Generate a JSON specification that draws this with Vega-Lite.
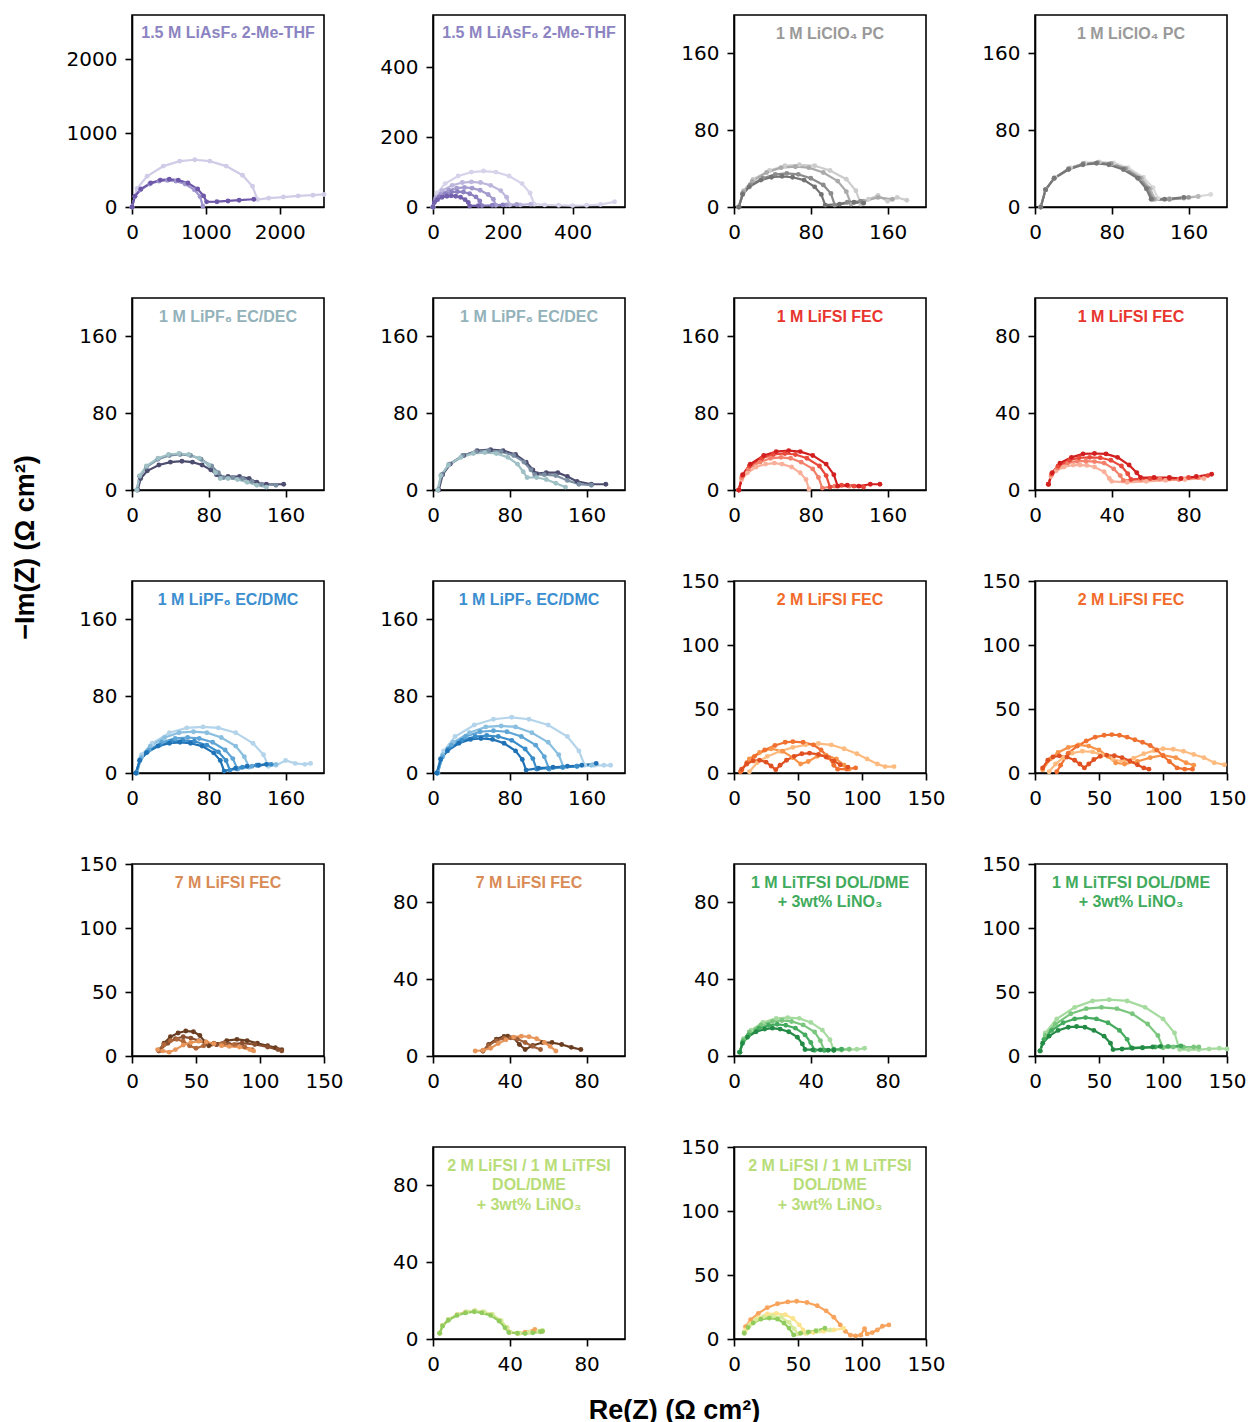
{
"$schema":"https://vega.github.io/schema/vega-lite/v6.json",
"background":"white",
"padding":{"left":10,"top":14,"right":5,"bottom":5},
"config":{
 "view":{"stroke":"black","strokeWidth":1.6},
 "axis":{"domainColor":"black","domainWidth":1.6,"tickColor":"black","tickWidth":1.6,"tickSize":7,"labelPadding":8,"labelColor":"black","labelFont":"DejaVu Sans","labelFontSize":20,"grid":false,"labelFlush":false,"labelOverlap":false,"titleFont":"Liberation Sans","titleFontWeight":"bold","titleFontSize":27,"titleColor":"black"},
 "text":{"font":"Liberation Sans","fontWeight":"bold","fontSize":16,"align":"center","baseline":"alphabetic","lineHeight":19.5},
 "line":{"strokeWidth":2.2,"point":{"filled":true,"size":24}}
},
"data":{"values":[
{"p":1,"s":1,"x":0,"y":0},{"p":1,"s":1,"x":68,"y":251},{"p":1,"s":1,"x":204,"y":416},{"p":1,"s":1,"x":425,"y":554},{"p":1,"s":1,"x":646,"y":621},{"p":1,"s":1,"x":850,"y":640},{"p":1,"s":1,"x":1054,"y":621},{"p":1,"s":1,"x":1275,"y":554},{"p":1,"s":1,"x":1496,"y":430},{"p":1,"s":1,"x":1632,"y":280},{"p":1,"s":1,"x":1700,"y":100},{"p":1,"s":1,"x":1850,"y":120},{"p":1,"s":1,"x":2050,"y":135},{"p":1,"s":1,"x":2250,"y":150},{"p":1,"s":1,"x":2450,"y":160},{"p":1,"s":1,"x":2600,"y":170},
{"p":1,"s":2,"x":0,"y":0},{"p":1,"s":2,"x":38,"y":141},{"p":1,"s":2,"x":115,"y":234},{"p":1,"s":2,"x":240,"y":312},{"p":1,"s":2,"x":365,"y":350},{"p":1,"s":2,"x":480,"y":360},{"p":1,"s":2,"x":595,"y":350},{"p":1,"s":2,"x":720,"y":312},{"p":1,"s":2,"x":845,"y":234},{"p":1,"s":2,"x":922,"y":141},{"p":1,"s":2,"x":960,"y":10},
{"p":1,"s":3,"x":0,"y":0},{"p":1,"s":3,"x":40,"y":147},{"p":1,"s":3,"x":121,"y":244},{"p":1,"s":3,"x":252,"y":325},{"p":1,"s":3,"x":384,"y":364},{"p":1,"s":3,"x":505,"y":375},{"p":1,"s":3,"x":626,"y":364},{"p":1,"s":3,"x":757,"y":325},{"p":1,"s":3,"x":889,"y":244},{"p":1,"s":3,"x":970,"y":150},{"p":1,"s":3,"x":1010,"y":70},{"p":1,"s":3,"x":1150,"y":72},{"p":1,"s":3,"x":1300,"y":82},{"p":1,"s":3,"x":1450,"y":92},{"p":1,"s":3,"x":1650,"y":105},
{"p":2,"s":1,"x":0,"y":0},{"p":2,"s":1,"x":12,"y":40},{"p":2,"s":1,"x":35,"y":67},{"p":2,"s":1,"x":72,"y":89},{"p":2,"s":1,"x":110,"y":100},{"p":2,"s":1,"x":145,"y":103},{"p":2,"s":1,"x":180,"y":100},{"p":2,"s":1,"x":218,"y":89},{"p":2,"s":1,"x":255,"y":67},{"p":2,"s":1,"x":278,"y":40},{"p":2,"s":1,"x":290,"y":8},{"p":2,"s":1,"x":320,"y":6},{"p":2,"s":1,"x":360,"y":5},{"p":2,"s":1,"x":400,"y":4},{"p":2,"s":1,"x":440,"y":5},{"p":2,"s":1,"x":480,"y":7},{"p":2,"s":1,"x":520,"y":15},
{"p":2,"s":2,"x":0,"y":0},{"p":2,"s":2,"x":9,"y":28},{"p":2,"s":2,"x":26,"y":47},{"p":2,"s":2,"x":55,"y":62},{"p":2,"s":2,"x":84,"y":70},{"p":2,"s":2,"x":110,"y":72},{"p":2,"s":2,"x":136,"y":70},{"p":2,"s":2,"x":165,"y":62},{"p":2,"s":2,"x":194,"y":47},{"p":2,"s":2,"x":211,"y":28},{"p":2,"s":2,"x":220,"y":6},{"p":2,"s":2,"x":250,"y":6},{"p":2,"s":2,"x":280,"y":8},
{"p":2,"s":3,"x":0,"y":0},{"p":2,"s":3,"x":7,"y":22},{"p":2,"s":3,"x":22,"y":36},{"p":2,"s":3,"x":45,"y":48},{"p":2,"s":3,"x":68,"y":54},{"p":2,"s":3,"x":90,"y":56},{"p":2,"s":3,"x":112,"y":54},{"p":2,"s":3,"x":135,"y":48},{"p":2,"s":3,"x":158,"y":36},{"p":2,"s":3,"x":173,"y":22},{"p":2,"s":3,"x":180,"y":5},{"p":2,"s":3,"x":210,"y":6},{"p":2,"s":3,"x":240,"y":7},
{"p":2,"s":4,"x":0,"y":0},{"p":2,"s":4,"x":6,"y":17},{"p":2,"s":4,"x":17,"y":29},{"p":2,"s":4,"x":35,"y":38},{"p":2,"s":4,"x":53,"y":43},{"p":2,"s":4,"x":70,"y":44},{"p":2,"s":4,"x":87,"y":43},{"p":2,"s":4,"x":105,"y":38},{"p":2,"s":4,"x":123,"y":29},{"p":2,"s":4,"x":134,"y":17},{"p":2,"s":4,"x":140,"y":4},{"p":2,"s":4,"x":170,"y":5},{"p":2,"s":4,"x":200,"y":6},
{"p":2,"s":5,"x":0,"y":0},{"p":2,"s":5,"x":4,"y":13},{"p":2,"s":5,"x":13,"y":21},{"p":2,"s":5,"x":26,"y":28},{"p":2,"s":5,"x":40,"y":31},{"p":2,"s":5,"x":52,"y":32},{"p":2,"s":5,"x":65,"y":31},{"p":2,"s":5,"x":79,"y":28},{"p":2,"s":5,"x":92,"y":21},{"p":2,"s":5,"x":101,"y":13},{"p":2,"s":5,"x":105,"y":3},{"p":2,"s":5,"x":130,"y":4},
{"p":3,"s":1,"x":5,"y":0},{"p":3,"s":1,"x":10,"y":17},{"p":3,"s":1,"x":20,"y":29},{"p":3,"s":1,"x":37,"y":38},{"p":3,"s":1,"x":53,"y":43},{"p":3,"s":1,"x":68,"y":44},{"p":3,"s":1,"x":84,"y":43},{"p":3,"s":1,"x":100,"y":38},{"p":3,"s":1,"x":117,"y":29},{"p":3,"s":1,"x":127,"y":17},{"p":3,"s":1,"x":132,"y":3},{"p":3,"s":1,"x":140,"y":8},{"p":3,"s":1,"x":150,"y":12},{"p":3,"s":1,"x":160,"y":6},{"p":3,"s":1,"x":170,"y":10},{"p":3,"s":1,"x":180,"y":7},
{"p":3,"s":2,"x":5,"y":0},{"p":3,"s":2,"x":10,"y":16},{"p":3,"s":2,"x":19,"y":27},{"p":3,"s":2,"x":34,"y":36},{"p":3,"s":2,"x":49,"y":41},{"p":3,"s":2,"x":64,"y":42},{"p":3,"s":2,"x":78,"y":41},{"p":3,"s":2,"x":93,"y":36},{"p":3,"s":2,"x":108,"y":27},{"p":3,"s":2,"x":117,"y":16},{"p":3,"s":2,"x":122,"y":3},{"p":3,"s":2,"x":135,"y":6},{"p":3,"s":2,"x":150,"y":10},{"p":3,"s":2,"x":165,"y":8},
{"p":3,"s":3,"x":5,"y":0},{"p":3,"s":3,"x":9,"y":14},{"p":3,"s":3,"x":17,"y":23},{"p":3,"s":3,"x":30,"y":30},{"p":3,"s":3,"x":43,"y":34},{"p":3,"s":3,"x":55,"y":35},{"p":3,"s":3,"x":67,"y":34},{"p":3,"s":3,"x":80,"y":30},{"p":3,"s":3,"x":93,"y":23},{"p":3,"s":3,"x":101,"y":14},{"p":3,"s":3,"x":105,"y":2},{"p":3,"s":3,"x":118,"y":5},{"p":3,"s":3,"x":132,"y":6},
{"p":3,"s":4,"x":5,"y":0},{"p":3,"s":4,"x":9,"y":13},{"p":3,"s":4,"x":16,"y":21},{"p":3,"s":4,"x":28,"y":28},{"p":3,"s":4,"x":39,"y":31},{"p":3,"s":4,"x":50,"y":32},{"p":3,"s":4,"x":61,"y":31},{"p":3,"s":4,"x":73,"y":28},{"p":3,"s":4,"x":84,"y":21},{"p":3,"s":4,"x":91,"y":13},{"p":3,"s":4,"x":95,"y":2},{"p":3,"s":4,"x":110,"y":3},{"p":3,"s":4,"x":125,"y":5},{"p":3,"s":4,"x":135,"y":4},
{"p":4,"s":1,"x":6,"y":0},{"p":4,"s":1,"x":11,"y":18},{"p":4,"s":1,"x":21,"y":31},{"p":4,"s":1,"x":37,"y":41},{"p":4,"s":1,"x":52,"y":46},{"p":4,"s":1,"x":67,"y":47},{"p":4,"s":1,"x":82,"y":46},{"p":4,"s":1,"x":97,"y":41},{"p":4,"s":1,"x":113,"y":31},{"p":4,"s":1,"x":123,"y":20},{"p":4,"s":1,"x":128,"y":9},{"p":4,"s":1,"x":140,"y":9},{"p":4,"s":1,"x":155,"y":10},{"p":4,"s":1,"x":170,"y":11},{"p":4,"s":1,"x":183,"y":13},
{"p":4,"s":2,"x":6,"y":0},{"p":4,"s":2,"x":11,"y":18},{"p":4,"s":2,"x":20,"y":30},{"p":4,"s":2,"x":36,"y":40},{"p":4,"s":2,"x":51,"y":45},{"p":4,"s":2,"x":66,"y":46.5},{"p":4,"s":2,"x":80,"y":45},{"p":4,"s":2,"x":95,"y":40},{"p":4,"s":2,"x":111,"y":30},{"p":4,"s":2,"x":120,"y":19},{"p":4,"s":2,"x":125,"y":8},{"p":4,"s":2,"x":140,"y":8},{"p":4,"s":2,"x":155,"y":9},{"p":4,"s":2,"x":170,"y":11},
{"p":4,"s":3,"x":6,"y":0},{"p":4,"s":3,"x":11,"y":18},{"p":4,"s":3,"x":20,"y":30},{"p":4,"s":3,"x":35,"y":40},{"p":4,"s":3,"x":50,"y":45},{"p":4,"s":3,"x":65,"y":46},{"p":4,"s":3,"x":79,"y":45},{"p":4,"s":3,"x":94,"y":40},{"p":4,"s":3,"x":109,"y":30},{"p":4,"s":3,"x":118,"y":19},{"p":4,"s":3,"x":123,"y":8},{"p":4,"s":3,"x":140,"y":8},{"p":4,"s":3,"x":160,"y":10},
{"p":4,"s":4,"x":6,"y":0},{"p":4,"s":4,"x":11,"y":18},{"p":4,"s":4,"x":20,"y":30},{"p":4,"s":4,"x":35,"y":39},{"p":4,"s":4,"x":50,"y":44},{"p":4,"s":4,"x":64,"y":45.5},{"p":4,"s":4,"x":77,"y":44},{"p":4,"s":4,"x":92,"y":39},{"p":4,"s":4,"x":107,"y":30},{"p":4,"s":4,"x":116,"y":19},{"p":4,"s":4,"x":121,"y":8},{"p":4,"s":4,"x":135,"y":8},{"p":4,"s":4,"x":155,"y":10},
{"p":5,"s":1,"x":6,"y":0},{"p":5,"s":1,"x":9,"y":12},{"p":5,"s":1,"x":16,"y":20},{"p":5,"s":1,"x":28,"y":26},{"p":5,"s":1,"x":40,"y":29},{"p":5,"s":1,"x":52,"y":30},{"p":5,"s":1,"x":63,"y":29},{"p":5,"s":1,"x":73,"y":26},{"p":5,"s":1,"x":82,"y":21},{"p":5,"s":1,"x":88,"y":16},{"p":5,"s":1,"x":92,"y":13},{"p":5,"s":1,"x":100,"y":14},{"p":5,"s":1,"x":112,"y":14},{"p":5,"s":1,"x":122,"y":12},{"p":5,"s":1,"x":130,"y":8},{"p":5,"s":1,"x":140,"y":6},{"p":5,"s":1,"x":158,"y":6},
{"p":5,"s":2,"x":5,"y":0},{"p":5,"s":2,"x":8,"y":14},{"p":5,"s":2,"x":15,"y":24},{"p":5,"s":2,"x":27,"y":32},{"p":5,"s":2,"x":39,"y":36},{"p":5,"s":2,"x":50,"y":37},{"p":5,"s":2,"x":61,"y":36},{"p":5,"s":2,"x":72,"y":32},{"p":5,"s":2,"x":83,"y":25},{"p":5,"s":2,"x":90,"y":18},{"p":5,"s":2,"x":95,"y":13},{"p":5,"s":2,"x":105,"y":13},{"p":5,"s":2,"x":115,"y":12},{"p":5,"s":2,"x":125,"y":9},{"p":5,"s":2,"x":135,"y":6},{"p":5,"s":2,"x":150,"y":5},
{"p":5,"s":3,"x":5,"y":0},{"p":5,"s":3,"x":8,"y":15},{"p":5,"s":3,"x":15,"y":25},{"p":5,"s":3,"x":27,"y":33},{"p":5,"s":3,"x":38,"y":37},{"p":5,"s":3,"x":49,"y":38},{"p":5,"s":3,"x":59,"y":37},{"p":5,"s":3,"x":70,"y":33},{"p":5,"s":3,"x":80,"y":26},{"p":5,"s":3,"x":87,"y":18},{"p":5,"s":3,"x":92,"y":12},{"p":5,"s":3,"x":100,"y":12},{"p":5,"s":3,"x":110,"y":11},{"p":5,"s":3,"x":120,"y":8},{"p":5,"s":3,"x":130,"y":5},{"p":5,"s":3,"x":140,"y":3},
{"p":6,"s":1,"x":6,"y":0},{"p":6,"s":1,"x":10,"y":16},{"p":6,"s":1,"x":18,"y":27},{"p":6,"s":1,"x":32,"y":36},{"p":6,"s":1,"x":46,"y":41},{"p":6,"s":1,"x":60,"y":42},{"p":6,"s":1,"x":73,"y":41},{"p":6,"s":1,"x":86,"y":37},{"p":6,"s":1,"x":97,"y":29},{"p":6,"s":1,"x":104,"y":21},{"p":6,"s":1,"x":108,"y":17},{"p":6,"s":1,"x":118,"y":18},{"p":6,"s":1,"x":130,"y":18},{"p":6,"s":1,"x":140,"y":14},{"p":6,"s":1,"x":150,"y":9},{"p":6,"s":1,"x":165,"y":6},{"p":6,"s":1,"x":180,"y":6},
{"p":6,"s":2,"x":5,"y":0},{"p":6,"s":2,"x":9,"y":16},{"p":6,"s":2,"x":17,"y":27},{"p":6,"s":2,"x":31,"y":36},{"p":6,"s":2,"x":45,"y":40},{"p":6,"s":2,"x":58,"y":41},{"p":6,"s":2,"x":71,"y":40},{"p":6,"s":2,"x":84,"y":36},{"p":6,"s":2,"x":95,"y":29},{"p":6,"s":2,"x":102,"y":21},{"p":6,"s":2,"x":106,"y":16},{"p":6,"s":2,"x":116,"y":16},{"p":6,"s":2,"x":128,"y":15},{"p":6,"s":2,"x":140,"y":10},{"p":6,"s":2,"x":152,"y":6},{"p":6,"s":2,"x":165,"y":5},
{"p":6,"s":3,"x":5,"y":0},{"p":6,"s":3,"x":8,"y":15},{"p":6,"s":3,"x":16,"y":26},{"p":6,"s":3,"x":29,"y":34},{"p":6,"s":3,"x":42,"y":38},{"p":6,"s":3,"x":54,"y":39},{"p":6,"s":3,"x":66,"y":38},{"p":6,"s":3,"x":78,"y":34},{"p":6,"s":3,"x":88,"y":27},{"p":6,"s":3,"x":94,"y":19},{"p":6,"s":3,"x":98,"y":13},{"p":6,"s":3,"x":108,"y":13},{"p":6,"s":3,"x":118,"y":11},{"p":6,"s":3,"x":128,"y":7},{"p":6,"s":3,"x":138,"y":3},
{"p":7,"s":1,"x":5,"y":0},{"p":7,"s":1,"x":8,"y":11},{"p":7,"s":1,"x":14,"y":18},{"p":7,"s":1,"x":23,"y":24},{"p":7,"s":1,"x":33,"y":27},{"p":7,"s":1,"x":42,"y":28},{"p":7,"s":1,"x":50,"y":27},{"p":7,"s":1,"x":60,"y":24},{"p":7,"s":1,"x":69,"y":18},{"p":7,"s":1,"x":75,"y":11},{"p":7,"s":1,"x":78,"y":1},
{"p":7,"s":2,"x":5,"y":0},{"p":7,"s":2,"x":8,"y":13},{"p":7,"s":2,"x":15,"y":22},{"p":7,"s":2,"x":27,"y":29},{"p":7,"s":2,"x":38,"y":33},{"p":7,"s":2,"x":49,"y":34},{"p":7,"s":2,"x":59,"y":33},{"p":7,"s":2,"x":70,"y":29},{"p":7,"s":2,"x":82,"y":22},{"p":7,"s":2,"x":88,"y":13},{"p":7,"s":2,"x":92,"y":2},{"p":7,"s":2,"x":105,"y":4},{"p":7,"s":2,"x":120,"y":4},
{"p":7,"s":3,"x":5,"y":0},{"p":7,"s":3,"x":9,"y":15},{"p":7,"s":3,"x":16,"y":25},{"p":7,"s":3,"x":29,"y":33},{"p":7,"s":3,"x":41,"y":37},{"p":7,"s":3,"x":53,"y":38},{"p":7,"s":3,"x":64,"y":37},{"p":7,"s":3,"x":76,"y":33},{"p":7,"s":3,"x":89,"y":25},{"p":7,"s":3,"x":96,"y":15},{"p":7,"s":3,"x":100,"y":3},{"p":7,"s":3,"x":112,"y":5},{"p":7,"s":3,"x":125,"y":4},{"p":7,"s":3,"x":135,"y":3},
{"p":7,"s":4,"x":5,"y":0},{"p":7,"s":4,"x":9,"y":16},{"p":7,"s":4,"x":17,"y":27},{"p":7,"s":4,"x":31,"y":36},{"p":7,"s":4,"x":44,"y":40},{"p":7,"s":4,"x":57,"y":41},{"p":7,"s":4,"x":69,"y":40},{"p":7,"s":4,"x":82,"y":36},{"p":7,"s":4,"x":96,"y":27},{"p":7,"s":4,"x":104,"y":16},{"p":7,"s":4,"x":108,"y":4},{"p":7,"s":4,"x":118,"y":5},{"p":7,"s":4,"x":130,"y":4},{"p":7,"s":4,"x":142,"y":6},{"p":7,"s":4,"x":152,"y":6},
{"p":8,"s":1,"x":7,"y":3},{"p":8,"s":1,"x":8.3,"y":7},{"p":8,"s":1,"x":11,"y":10},{"p":8,"s":1,"x":15,"y":12},{"p":8,"s":1,"x":20,"y":13},{"p":8,"s":1,"x":23.5,"y":13},{"p":8,"s":1,"x":27,"y":12.8},{"p":8,"s":1,"x":31,"y":12},{"p":8,"s":1,"x":36,"y":9.5},{"p":8,"s":1,"x":38.7,"y":6},{"p":8,"s":1,"x":40,"y":4.5},{"p":8,"s":1,"x":48,"y":4},{"p":8,"s":1,"x":58,"y":4.5},{"p":8,"s":1,"x":68,"y":5},{"p":8,"s":1,"x":78,"y":5.5},{"p":8,"s":1,"x":88,"y":6},
{"p":8,"s":2,"x":7,"y":3},{"p":8,"s":2,"x":8.6,"y":8},{"p":8,"s":2,"x":11.7,"y":11.5},{"p":8,"s":2,"x":17,"y":14},{"p":8,"s":2,"x":22,"y":15},{"p":8,"s":2,"x":26.5,"y":15},{"p":8,"s":2,"x":31,"y":14.8},{"p":8,"s":2,"x":36,"y":14},{"p":8,"s":2,"x":41,"y":11},{"p":8,"s":2,"x":44.4,"y":7.5},{"p":8,"s":2,"x":46,"y":5},{"p":8,"s":2,"x":55,"y":5.5},{"p":8,"s":2,"x":65,"y":5.8},{"p":8,"s":2,"x":75,"y":5.5},{"p":8,"s":2,"x":85,"y":6.5},
{"p":8,"s":3,"x":7,"y":3},{"p":8,"s":3,"x":8.7,"y":8.5},{"p":8,"s":3,"x":12,"y":12.5},{"p":8,"s":3,"x":18,"y":15.5},{"p":8,"s":3,"x":23,"y":16.8},{"p":8,"s":3,"x":28.5,"y":17},{"p":8,"s":3,"x":34,"y":16.8},{"p":8,"s":3,"x":39.5,"y":15.5},{"p":8,"s":3,"x":45,"y":12.5},{"p":8,"s":3,"x":48.3,"y":8.5},{"p":8,"s":3,"x":50,"y":5.5},{"p":8,"s":3,"x":60,"y":6},{"p":8,"s":3,"x":70,"y":6},{"p":8,"s":3,"x":80,"y":6.5},{"p":8,"s":3,"x":90,"y":7.5},
{"p":8,"s":4,"x":7,"y":3},{"p":8,"s":4,"x":9,"y":9},{"p":8,"s":4,"x":13,"y":14},{"p":8,"s":4,"x":19,"y":17},{"p":8,"s":4,"x":25,"y":18.8},{"p":8,"s":4,"x":31,"y":19},{"p":8,"s":4,"x":37,"y":18.8},{"p":8,"s":4,"x":43,"y":17},{"p":8,"s":4,"x":49,"y":13},{"p":8,"s":4,"x":53,"y":9},{"p":8,"s":4,"x":55,"y":6.5},{"p":8,"s":4,"x":62,"y":6.5},{"p":8,"s":4,"x":70,"y":6.5},{"p":8,"s":4,"x":76,"y":6},{"p":8,"s":4,"x":84,"y":7},{"p":8,"s":4,"x":92,"y":8.2},
{"p":9,"s":1,"x":5,"y":0},{"p":9,"s":1,"x":10,"y":19},{"p":9,"s":1,"x":21,"y":31},{"p":9,"s":1,"x":39,"y":42},{"p":9,"s":1,"x":57,"y":47},{"p":9,"s":1,"x":74,"y":48},{"p":9,"s":1,"x":90,"y":47},{"p":9,"s":1,"x":108,"y":42},{"p":9,"s":1,"x":126,"y":31},{"p":9,"s":1,"x":137,"y":19},{"p":9,"s":1,"x":142,"y":7},{"p":9,"s":1,"x":150,"y":8},{"p":9,"s":1,"x":160,"y":13},{"p":9,"s":1,"x":170,"y":10},{"p":9,"s":1,"x":180,"y":9},{"p":9,"s":1,"x":186,"y":10},
{"p":9,"s":2,"x":5,"y":0},{"p":9,"s":2,"x":10,"y":17},{"p":9,"s":2,"x":19,"y":28},{"p":9,"s":2,"x":34,"y":37},{"p":9,"s":2,"x":49,"y":42},{"p":9,"s":2,"x":64,"y":43},{"p":9,"s":2,"x":78,"y":42},{"p":9,"s":2,"x":93,"y":37},{"p":9,"s":2,"x":108,"y":28},{"p":9,"s":2,"x":117,"y":17},{"p":9,"s":2,"x":122,"y":6},{"p":9,"s":2,"x":132,"y":8},{"p":9,"s":2,"x":142,"y":9},{"p":9,"s":2,"x":150,"y":9},
{"p":9,"s":3,"x":5,"y":0},{"p":9,"s":3,"x":9,"y":15},{"p":9,"s":3,"x":18,"y":24},{"p":9,"s":3,"x":31,"y":32},{"p":9,"s":3,"x":45,"y":36},{"p":9,"s":3,"x":58,"y":37},{"p":9,"s":3,"x":70,"y":36},{"p":9,"s":3,"x":84,"y":32},{"p":9,"s":3,"x":97,"y":24},{"p":9,"s":3,"x":105,"y":15},{"p":9,"s":3,"x":110,"y":4},{"p":9,"s":3,"x":125,"y":7},{"p":9,"s":3,"x":140,"y":9},
{"p":9,"s":4,"x":4,"y":0},{"p":9,"s":4,"x":8,"y":13},{"p":9,"s":4,"x":16,"y":22},{"p":9,"s":4,"x":29,"y":29},{"p":9,"s":4,"x":41,"y":33},{"p":9,"s":4,"x":53,"y":34},{"p":9,"s":4,"x":65,"y":33},{"p":9,"s":4,"x":78,"y":29},{"p":9,"s":4,"x":90,"y":22},{"p":9,"s":4,"x":98,"y":13},{"p":9,"s":4,"x":102,"y":3},{"p":9,"s":4,"x":115,"y":6},{"p":9,"s":4,"x":130,"y":8},{"p":9,"s":4,"x":145,"y":9},
{"p":9,"s":5,"x":4,"y":0},{"p":9,"s":5,"x":8,"y":13},{"p":9,"s":5,"x":15,"y":21},{"p":9,"s":5,"x":27,"y":28},{"p":9,"s":5,"x":39,"y":31},{"p":9,"s":5,"x":50,"y":32},{"p":9,"s":5,"x":61,"y":31},{"p":9,"s":5,"x":73,"y":28},{"p":9,"s":5,"x":85,"y":21},{"p":9,"s":5,"x":92,"y":13},{"p":9,"s":5,"x":96,"y":2},{"p":9,"s":5,"x":108,"y":5},{"p":9,"s":5,"x":120,"y":7},{"p":9,"s":5,"x":132,"y":8},{"p":9,"s":5,"x":140,"y":9},
{"p":10,"s":1,"x":5,"y":0},{"p":10,"s":1,"x":11,"y":23},{"p":10,"s":1,"x":23,"y":38},{"p":10,"s":1,"x":43,"y":50},{"p":10,"s":1,"x":63,"y":56},{"p":10,"s":1,"x":82,"y":58},{"p":10,"s":1,"x":100,"y":56},{"p":10,"s":1,"x":120,"y":50},{"p":10,"s":1,"x":140,"y":38},{"p":10,"s":1,"x":152,"y":23},{"p":10,"s":1,"x":158,"y":8},{"p":10,"s":1,"x":168,"y":8},{"p":10,"s":1,"x":178,"y":8},{"p":10,"s":1,"x":185,"y":8},
{"p":10,"s":2,"x":5,"y":0},{"p":10,"s":2,"x":10,"y":19},{"p":10,"s":2,"x":21,"y":32},{"p":10,"s":2,"x":38,"y":42},{"p":10,"s":2,"x":55,"y":48},{"p":10,"s":2,"x":71,"y":49},{"p":10,"s":2,"x":86,"y":48},{"p":10,"s":2,"x":103,"y":42},{"p":10,"s":2,"x":120,"y":32},{"p":10,"s":2,"x":131,"y":19},{"p":10,"s":2,"x":136,"y":6},{"p":10,"s":2,"x":150,"y":7},{"p":10,"s":2,"x":165,"y":8},
{"p":10,"s":3,"x":5,"y":0},{"p":10,"s":3,"x":10,"y":17},{"p":10,"s":3,"x":19,"y":29},{"p":10,"s":3,"x":34,"y":38},{"p":10,"s":3,"x":49,"y":43},{"p":10,"s":3,"x":63,"y":44},{"p":10,"s":3,"x":77,"y":43},{"p":10,"s":3,"x":92,"y":38},{"p":10,"s":3,"x":107,"y":29},{"p":10,"s":3,"x":116,"y":17},{"p":10,"s":3,"x":121,"y":4},{"p":10,"s":3,"x":135,"y":6},{"p":10,"s":3,"x":150,"y":7},
{"p":10,"s":4,"x":4,"y":0},{"p":10,"s":4,"x":8,"y":15},{"p":10,"s":4,"x":16,"y":25},{"p":10,"s":4,"x":30,"y":34},{"p":10,"s":4,"x":44,"y":38},{"p":10,"s":4,"x":56,"y":39},{"p":10,"s":4,"x":68,"y":38},{"p":10,"s":4,"x":82,"y":34},{"p":10,"s":4,"x":96,"y":25},{"p":10,"s":4,"x":104,"y":15},{"p":10,"s":4,"x":108,"y":4},{"p":10,"s":4,"x":120,"y":5},{"p":10,"s":4,"x":135,"y":6},{"p":10,"s":4,"x":150,"y":7},
{"p":10,"s":5,"x":4,"y":0},{"p":10,"s":5,"x":8,"y":14},{"p":10,"s":5,"x":15,"y":23},{"p":10,"s":5,"x":27,"y":31},{"p":10,"s":5,"x":39,"y":35},{"p":10,"s":5,"x":50,"y":36},{"p":10,"s":5,"x":62,"y":35},{"p":10,"s":5,"x":74,"y":31},{"p":10,"s":5,"x":86,"y":23},{"p":10,"s":5,"x":93,"y":14},{"p":10,"s":5,"x":97,"y":3},{"p":10,"s":5,"x":110,"y":5},{"p":10,"s":5,"x":125,"y":6},{"p":10,"s":5,"x":140,"y":7},{"p":10,"s":5,"x":155,"y":8},{"p":10,"s":5,"x":170,"y":10},
{"p":11,"s":1,"x":12,"y":1},{"p":11,"s":1,"x":18,"y":8},{"p":11,"s":1,"x":26,"y":13},{"p":11,"s":1,"x":36,"y":17},{"p":11,"s":1,"x":46,"y":20},{"p":11,"s":1,"x":56,"y":22},{"p":11,"s":1,"x":66,"y":23},{"p":11,"s":1,"x":76,"y":22},{"p":11,"s":1,"x":86,"y":19},{"p":11,"s":1,"x":96,"y":15},{"p":11,"s":1,"x":104,"y":11},{"p":11,"s":1,"x":112,"y":7},{"p":11,"s":1,"x":118,"y":5},{"p":11,"s":1,"x":125,"y":5},
{"p":11,"s":2,"x":6,"y":2},{"p":11,"s":2,"x":12,"y":11},{"p":11,"s":2,"x":20,"y":16},{"p":11,"s":2,"x":29,"y":19},{"p":11,"s":2,"x":38,"y":17},{"p":11,"s":2,"x":46,"y":12},{"p":11,"s":2,"x":52,"y":7},{"p":11,"s":2,"x":58,"y":9},{"p":11,"s":2,"x":65,"y":13},{"p":11,"s":2,"x":72,"y":14},{"p":11,"s":2,"x":80,"y":11},{"p":11,"s":2,"x":86,"y":6},{"p":11,"s":2,"x":90,"y":3},
{"p":11,"s":3,"x":5,"y":1},{"p":11,"s":3,"x":10,"y":8},{"p":11,"s":3,"x":16,"y":13},{"p":11,"s":3,"x":24,"y":18},{"p":11,"s":3,"x":32,"y":21.5},{"p":11,"s":3,"x":40,"y":24},{"p":11,"s":3,"x":46,"y":24.5},{"p":11,"s":3,"x":54,"y":24},{"p":11,"s":3,"x":62,"y":22},{"p":11,"s":3,"x":68,"y":18},{"p":11,"s":3,"x":74,"y":12},{"p":11,"s":3,"x":78,"y":6},{"p":11,"s":3,"x":81,"y":3},{"p":11,"s":3,"x":88,"y":3},{"p":11,"s":3,"x":95,"y":4},
{"p":11,"s":4,"x":6,"y":3},{"p":11,"s":4,"x":10,"y":7},{"p":11,"s":4,"x":15,"y":9.5},{"p":11,"s":4,"x":20,"y":10},{"p":11,"s":4,"x":25,"y":8.5},{"p":11,"s":4,"x":29,"y":5.5},{"p":11,"s":4,"x":32.6,"y":2.6},{"p":11,"s":4,"x":36,"y":6},{"p":11,"s":4,"x":41,"y":10},{"p":11,"s":4,"x":47,"y":13},{"p":11,"s":4,"x":53,"y":15},{"p":11,"s":4,"x":59,"y":15.5},{"p":11,"s":4,"x":66,"y":14.5},{"p":11,"s":4,"x":72,"y":12.5},{"p":11,"s":4,"x":78,"y":9.5},{"p":11,"s":4,"x":83,"y":6.5},{"p":11,"s":4,"x":89,"y":4.6},
{"p":12,"s":1,"x":11,"y":1},{"p":12,"s":1,"x":16,"y":7},{"p":12,"s":1,"x":22,"y":12},{"p":12,"s":1,"x":29,"y":15.5},{"p":12,"s":1,"x":37,"y":17},{"p":12,"s":1,"x":45,"y":16.5},{"p":12,"s":1,"x":53,"y":14},{"p":12,"s":1,"x":61,"y":10.5},{"p":12,"s":1,"x":69,"y":9},{"p":12,"s":1,"x":77,"y":11.5},{"p":12,"s":1,"x":85,"y":15},{"p":12,"s":1,"x":93,"y":17.5},{"p":12,"s":1,"x":100,"y":19},{"p":12,"s":1,"x":108,"y":18.5},{"p":12,"s":1,"x":116,"y":17},{"p":12,"s":1,"x":124,"y":14.5},{"p":12,"s":1,"x":132,"y":12},{"p":12,"s":1,"x":140,"y":8},{"p":12,"s":1,"x":148,"y":6.5},
{"p":12,"s":2,"x":6,"y":2.6},{"p":12,"s":2,"x":12,"y":11},{"p":12,"s":2,"x":18,"y":16},{"p":12,"s":2,"x":26,"y":20},{"p":12,"s":2,"x":34,"y":22},{"p":12,"s":2,"x":42,"y":21},{"p":12,"s":2,"x":50,"y":18},{"p":12,"s":2,"x":57,"y":13},{"p":12,"s":2,"x":63,"y":8},{"p":12,"s":2,"x":70,"y":7},{"p":12,"s":2,"x":80,"y":9},{"p":12,"s":2,"x":90,"y":12},{"p":12,"s":2,"x":100,"y":14},{"p":12,"s":2,"x":110,"y":12},{"p":12,"s":2,"x":118,"y":8},{"p":12,"s":2,"x":124,"y":6},
{"p":12,"s":3,"x":17,"y":1},{"p":12,"s":3,"x":20,"y":6},{"p":12,"s":3,"x":26,"y":15.5},{"p":12,"s":3,"x":33,"y":21},{"p":12,"s":3,"x":40,"y":25},{"p":12,"s":3,"x":47,"y":28},{"p":12,"s":3,"x":54,"y":29.5},{"p":12,"s":3,"x":60,"y":30},{"p":12,"s":3,"x":66,"y":29.5},{"p":12,"s":3,"x":72,"y":28},{"p":12,"s":3,"x":78,"y":26},{"p":12,"s":3,"x":84,"y":24},{"p":12,"s":3,"x":90,"y":21.5},{"p":12,"s":3,"x":95,"y":18},{"p":12,"s":3,"x":100,"y":13.5},{"p":12,"s":3,"x":105,"y":9},{"p":12,"s":3,"x":111,"y":4},{"p":12,"s":3,"x":117,"y":3},{"p":12,"s":3,"x":123,"y":3},
{"p":12,"s":4,"x":6,"y":4},{"p":12,"s":4,"x":10,"y":10},{"p":12,"s":4,"x":14,"y":12.5},{"p":12,"s":4,"x":19,"y":13.4},{"p":12,"s":4,"x":25,"y":12.5},{"p":12,"s":4,"x":31,"y":10},{"p":12,"s":4,"x":35,"y":7},{"p":12,"s":4,"x":38.6,"y":4},{"p":12,"s":4,"x":42,"y":7},{"p":12,"s":4,"x":46,"y":10.5},{"p":12,"s":4,"x":51,"y":13},{"p":12,"s":4,"x":56,"y":14},{"p":12,"s":4,"x":62,"y":13.5},{"p":12,"s":4,"x":68,"y":12},{"p":12,"s":4,"x":74,"y":9.5},{"p":12,"s":4,"x":80,"y":6.5},{"p":12,"s":4,"x":85,"y":4},{"p":12,"s":4,"x":89,"y":3},
{"p":13,"s":1,"x":21,"y":4},{"p":13,"s":1,"x":25,"y":10},{"p":13,"s":1,"x":30,"y":15},{"p":13,"s":1,"x":36,"y":18},{"p":13,"s":1,"x":42,"y":19.5},{"p":13,"s":1,"x":48,"y":19},{"p":13,"s":1,"x":53,"y":16},{"p":13,"s":1,"x":57,"y":11},{"p":13,"s":1,"x":60,"y":8},{"p":13,"s":1,"x":66,"y":9},{"p":13,"s":1,"x":74,"y":12},{"p":13,"s":1,"x":82,"y":13},{"p":13,"s":1,"x":90,"y":12},{"p":13,"s":1,"x":98,"y":10},{"p":13,"s":1,"x":106,"y":8},{"p":13,"s":1,"x":112,"y":6.5},{"p":13,"s":1,"x":117,"y":5},
{"p":13,"s":2,"x":22,"y":5},{"p":13,"s":2,"x":28,"y":10},{"p":13,"s":2,"x":34,"y":13.5},{"p":13,"s":2,"x":40,"y":15},{"p":13,"s":2,"x":46,"y":14},{"p":13,"s":2,"x":52,"y":12},{"p":13,"s":2,"x":58,"y":10},{"p":13,"s":2,"x":66,"y":9},{"p":13,"s":2,"x":76,"y":9},{"p":13,"s":2,"x":86,"y":10},{"p":13,"s":2,"x":96,"y":9},{"p":13,"s":2,"x":106,"y":7},{"p":13,"s":2,"x":114,"y":5},{"p":13,"s":2,"x":117,"y":4},
{"p":13,"s":3,"x":21,"y":4},{"p":13,"s":3,"x":25,"y":9},{"p":13,"s":3,"x":30,"y":12},{"p":13,"s":3,"x":35,"y":13},{"p":13,"s":3,"x":40,"y":11.5},{"p":13,"s":3,"x":45,"y":8},{"p":13,"s":3,"x":50,"y":6},{"p":13,"s":3,"x":56,"y":8},{"p":13,"s":3,"x":64,"y":10},{"p":13,"s":3,"x":72,"y":10},{"p":13,"s":3,"x":80,"y":9},{"p":13,"s":3,"x":88,"y":7},{"p":13,"s":3,"x":94,"y":5},
{"p":13,"s":4,"x":20,"y":5},{"p":13,"s":4,"x":24,"y":4},{"p":13,"s":4,"x":29,"y":3},{"p":13,"s":4,"x":34,"y":5},{"p":13,"s":4,"x":40,"y":8.5},{"p":13,"s":4,"x":46,"y":10.5},{"p":13,"s":4,"x":52,"y":11.5},{"p":13,"s":4,"x":58,"y":11},{"p":13,"s":4,"x":64,"y":9.5},{"p":13,"s":4,"x":70,"y":8},{"p":13,"s":4,"x":76,"y":7.5},{"p":13,"s":4,"x":84,"y":7},{"p":13,"s":4,"x":92,"y":5},{"p":13,"s":4,"x":95,"y":4},
{"p":14,"s":1,"x":26,"y":2.6},{"p":14,"s":1,"x":29,"y":6},{"p":14,"s":1,"x":33,"y":8.8},{"p":14,"s":1,"x":37,"y":10.2},{"p":14,"s":1,"x":39,"y":10.3},{"p":14,"s":1,"x":42,"y":9.5},{"p":14,"s":1,"x":45,"y":6},{"p":14,"s":1,"x":48,"y":3.4},{"p":14,"s":1,"x":52,"y":5.5},{"p":14,"s":1,"x":57,"y":7},{"p":14,"s":1,"x":62,"y":7},{"p":14,"s":1,"x":67,"y":6},{"p":14,"s":1,"x":72,"y":4.5},{"p":14,"s":1,"x":77,"y":3.4},
{"p":14,"s":2,"x":26,"y":2.6},{"p":14,"s":2,"x":29,"y":5.5},{"p":14,"s":2,"x":33,"y":8},{"p":14,"s":2,"x":37,"y":9.3},{"p":14,"s":2,"x":40.5,"y":9.5},{"p":14,"s":2,"x":44,"y":8.8},{"p":14,"s":2,"x":48,"y":7},{"p":14,"s":2,"x":52,"y":5},{"p":14,"s":2,"x":56,"y":3.4},
{"p":14,"s":3,"x":22,"y":2.6},{"p":14,"s":3,"x":26,"y":3},{"p":14,"s":3,"x":30,"y":4},{"p":14,"s":3,"x":34,"y":6.5},{"p":14,"s":3,"x":38,"y":8.5},{"p":14,"s":3,"x":42,"y":9.8},{"p":14,"s":3,"x":46,"y":10.3},{"p":14,"s":3,"x":50,"y":10},{"p":14,"s":3,"x":54,"y":9},{"p":14,"s":3,"x":58,"y":7},{"p":14,"s":3,"x":61,"y":5},{"p":14,"s":3,"x":64,"y":2.6},
{"p":15,"s":1,"x":3,"y":2},{"p":15,"s":1,"x":5,"y":9},{"p":15,"s":1,"x":9,"y":13.5},{"p":15,"s":1,"x":15,"y":17.5},{"p":15,"s":1,"x":22,"y":19.6},{"p":15,"s":1,"x":28,"y":20},{"p":15,"s":1,"x":34,"y":19.6},{"p":15,"s":1,"x":40,"y":17.5},{"p":15,"s":1,"x":46,"y":13.5},{"p":15,"s":1,"x":50,"y":8.5},{"p":15,"s":1,"x":52,"y":3},{"p":15,"s":1,"x":56,"y":3},{"p":15,"s":1,"x":60,"y":3.5},{"p":15,"s":1,"x":64,"y":3.5},{"p":15,"s":1,"x":68,"y":4},
{"p":15,"s":2,"x":3,"y":2},{"p":15,"s":2,"x":5,"y":8.5},{"p":15,"s":2,"x":8,"y":12.5},{"p":15,"s":2,"x":14,"y":16.2},{"p":15,"s":2,"x":20,"y":18},{"p":15,"s":2,"x":25,"y":18.5},{"p":15,"s":2,"x":30,"y":18},{"p":15,"s":2,"x":36,"y":16.2},{"p":15,"s":2,"x":42,"y":12.5},{"p":15,"s":2,"x":45,"y":8},{"p":15,"s":2,"x":47,"y":3},{"p":15,"s":2,"x":52,"y":3},{"p":15,"s":2,"x":56,"y":3.5},{"p":15,"s":2,"x":60,"y":3.5},
{"p":15,"s":3,"x":3,"y":2},{"p":15,"s":3,"x":4.6,"y":7.5},{"p":15,"s":3,"x":7.7,"y":11},{"p":15,"s":3,"x":13,"y":14.5},{"p":15,"s":3,"x":18,"y":16},{"p":15,"s":3,"x":22.5,"y":16.5},{"p":15,"s":3,"x":27,"y":16},{"p":15,"s":3,"x":32,"y":14.5},{"p":15,"s":3,"x":37,"y":11},{"p":15,"s":3,"x":40,"y":7},{"p":15,"s":3,"x":42,"y":3},{"p":15,"s":3,"x":47,"y":3},{"p":15,"s":3,"x":52,"y":3.5},{"p":15,"s":3,"x":56,"y":3.5},
{"p":15,"s":4,"x":3,"y":2},{"p":15,"s":4,"x":4.4,"y":6.5},{"p":15,"s":4,"x":7,"y":9.8},{"p":15,"s":4,"x":11.5,"y":12.6},{"p":15,"s":4,"x":16,"y":14},{"p":15,"s":4,"x":20,"y":14.5},{"p":15,"s":4,"x":24,"y":14},{"p":15,"s":4,"x":28.5,"y":12.6},{"p":15,"s":4,"x":33,"y":9.8},{"p":15,"s":4,"x":35.6,"y":6.3},{"p":15,"s":4,"x":37,"y":3.4},{"p":15,"s":4,"x":41,"y":3.2},{"p":15,"s":4,"x":45,"y":3.2},{"p":15,"s":4,"x":49,"y":3},{"p":15,"s":4,"x":52,"y":3},
{"p":16,"s":1,"x":4,"y":4},{"p":16,"s":1,"x":8,"y":18},{"p":16,"s":1,"x":17,"y":29},{"p":16,"s":1,"x":31,"y":38},{"p":16,"s":1,"x":45,"y":43},{"p":16,"s":1,"x":58,"y":44},{"p":16,"s":1,"x":72,"y":43},{"p":16,"s":1,"x":86,"y":38},{"p":16,"s":1,"x":100,"y":29},{"p":16,"s":1,"x":109,"y":18},{"p":16,"s":1,"x":113,"y":5},{"p":16,"s":1,"x":120,"y":5},{"p":16,"s":1,"x":128,"y":5},{"p":16,"s":1,"x":136,"y":5.5},{"p":16,"s":1,"x":144,"y":6},{"p":16,"s":1,"x":150,"y":5.5},
{"p":16,"s":2,"x":4,"y":4},{"p":16,"s":2,"x":8,"y":16},{"p":16,"s":2,"x":16,"y":25},{"p":16,"s":2,"x":28,"y":33},{"p":16,"s":2,"x":40,"y":37},{"p":16,"s":2,"x":52,"y":38},{"p":16,"s":2,"x":64,"y":37},{"p":16,"s":2,"x":76,"y":33},{"p":16,"s":2,"x":88,"y":25},{"p":16,"s":2,"x":96,"y":16},{"p":16,"s":2,"x":100,"y":6.5},{"p":16,"s":2,"x":108,"y":7},{"p":16,"s":2,"x":116,"y":7},{"p":16,"s":2,"x":124,"y":7},{"p":16,"s":2,"x":128,"y":7},
{"p":16,"s":3,"x":4,"y":4},{"p":16,"s":3,"x":7,"y":13},{"p":16,"s":3,"x":13,"y":20},{"p":16,"s":3,"x":22,"y":26},{"p":16,"s":3,"x":31,"y":29},{"p":16,"s":3,"x":39.5,"y":30},{"p":16,"s":3,"x":48,"y":29},{"p":16,"s":3,"x":57,"y":26},{"p":16,"s":3,"x":66,"y":20},{"p":16,"s":3,"x":72,"y":13},{"p":16,"s":3,"x":75,"y":6.5},{"p":16,"s":3,"x":84,"y":6.5},{"p":16,"s":3,"x":94,"y":7},{"p":16,"s":3,"x":104,"y":7.5},{"p":16,"s":3,"x":114,"y":7.8},
{"p":16,"s":4,"x":4,"y":4},{"p":16,"s":4,"x":6,"y":10},{"p":16,"s":4,"x":11,"y":15.5},{"p":16,"s":4,"x":18,"y":20},{"p":16,"s":4,"x":26,"y":22.5},{"p":16,"s":4,"x":32.5,"y":23},{"p":16,"s":4,"x":39,"y":22.5},{"p":16,"s":4,"x":46,"y":20},{"p":16,"s":4,"x":54,"y":15.5},{"p":16,"s":4,"x":59,"y":10},{"p":16,"s":4,"x":61,"y":5},{"p":16,"s":4,"x":68,"y":5.5},{"p":16,"s":4,"x":76,"y":6},{"p":16,"s":4,"x":84,"y":6.5},{"p":16,"s":4,"x":92,"y":7},{"p":16,"s":4,"x":98,"y":7.5},
{"p":17,"s":1,"x":3.5,"y":3},{"p":17,"s":1,"x":5,"y":7},{"p":17,"s":1,"x":8,"y":10},{"p":17,"s":1,"x":12.6,"y":12.6},{"p":17,"s":1,"x":17,"y":14},{"p":17,"s":1,"x":21.7,"y":14.6},{"p":17,"s":1,"x":26,"y":14},{"p":17,"s":1,"x":30.5,"y":12.6},{"p":17,"s":1,"x":35,"y":9.5},{"p":17,"s":1,"x":38.5,"y":6},{"p":17,"s":1,"x":40,"y":3.5},{"p":17,"s":1,"x":44,"y":3},{"p":17,"s":1,"x":48,"y":3.5},{"p":17,"s":1,"x":53,"y":5},{"p":17,"s":1,"x":57,"y":4},
{"p":17,"s":2,"x":3.5,"y":3},{"p":17,"s":2,"x":5,"y":7},{"p":17,"s":2,"x":8,"y":10.2},{"p":17,"s":2,"x":13,"y":12.8},{"p":17,"s":2,"x":17.5,"y":14.2},{"p":17,"s":2,"x":22,"y":14.8},{"p":17,"s":2,"x":26.5,"y":14.2},{"p":17,"s":2,"x":31,"y":12.8},{"p":17,"s":2,"x":35.5,"y":9.6},{"p":17,"s":2,"x":38.5,"y":6},{"p":17,"s":2,"x":40,"y":3.6},{"p":17,"s":2,"x":45,"y":3},{"p":17,"s":2,"x":50,"y":3.5},{"p":17,"s":2,"x":55,"y":4},{"p":17,"s":2,"x":57,"y":4.5},
{"p":17,"s":3,"x":3.5,"y":3},{"p":17,"s":3,"x":5,"y":6.8},{"p":17,"s":3,"x":8,"y":9.8},{"p":17,"s":3,"x":12.5,"y":12.3},{"p":17,"s":3,"x":17,"y":13.6},{"p":17,"s":3,"x":21.5,"y":14.2},{"p":17,"s":3,"x":25.5,"y":13.6},{"p":17,"s":3,"x":30,"y":12.3},{"p":17,"s":3,"x":34.5,"y":9.3},{"p":17,"s":3,"x":37.5,"y":5.8},{"p":17,"s":3,"x":39.5,"y":3.4},{"p":17,"s":3,"x":44,"y":3},{"p":17,"s":3,"x":48,"y":2.8},{"p":17,"s":3,"x":52,"y":3.2},{"p":17,"s":3,"x":56,"y":3.8},{"p":17,"s":3,"x":57,"y":4},
{"p":18,"s":1,"x":9,"y":9.7},{"p":18,"s":1,"x":13,"y":15},{"p":18,"s":1,"x":19,"y":20},{"p":18,"s":1,"x":26,"y":24.5},{"p":18,"s":1,"x":34,"y":27.5},{"p":18,"s":1,"x":42,"y":29},{"p":18,"s":1,"x":49,"y":29.5},{"p":18,"s":1,"x":57,"y":28.5},{"p":18,"s":1,"x":65,"y":26},{"p":18,"s":1,"x":72,"y":22},{"p":18,"s":1,"x":78,"y":17},{"p":18,"s":1,"x":83,"y":11},{"p":18,"s":1,"x":87,"y":6},{"p":18,"s":1,"x":91,"y":3},{"p":18,"s":1,"x":95,"y":2.4},{"p":18,"s":1,"x":99,"y":3},{"p":18,"s":1,"x":102,"y":8},{"p":18,"s":1,"x":104,"y":4},{"p":18,"s":1,"x":108,"y":5},{"p":18,"s":1,"x":112,"y":7},{"p":18,"s":1,"x":116,"y":10},{"p":18,"s":1,"x":121,"y":11},
{"p":18,"s":2,"x":9,"y":7},{"p":18,"s":2,"x":13,"y":12},{"p":18,"s":2,"x":19,"y":16.5},{"p":18,"s":2,"x":26,"y":19.5},{"p":18,"s":2,"x":33,"y":20},{"p":18,"s":2,"x":40,"y":19},{"p":18,"s":2,"x":46,"y":16},{"p":18,"s":2,"x":51,"y":11},{"p":18,"s":2,"x":54,"y":7},{"p":18,"s":2,"x":56,"y":4.5},{"p":18,"s":2,"x":62,"y":5},{"p":18,"s":2,"x":70,"y":6},{"p":18,"s":2,"x":78,"y":7},{"p":18,"s":2,"x":85.5,"y":8.4},
{"p":18,"s":3,"x":8,"y":5.5},{"p":18,"s":3,"x":12,"y":10.5},{"p":18,"s":3,"x":17,"y":15},{"p":18,"s":3,"x":23,"y":17.5},{"p":18,"s":3,"x":30,"y":18},{"p":18,"s":3,"x":37,"y":17},{"p":18,"s":3,"x":43,"y":13},{"p":18,"s":3,"x":47,"y":8},{"p":18,"s":3,"x":50,"y":4},{"p":18,"s":3,"x":57,"y":4.5},{"p":18,"s":3,"x":65,"y":6},{"p":18,"s":3,"x":75,"y":7},
{"p":18,"s":4,"x":8,"y":4.5},{"p":18,"s":4,"x":11,"y":9},{"p":18,"s":4,"x":15,"y":12.5},{"p":18,"s":4,"x":21,"y":15.5},{"p":18,"s":4,"x":27.6,"y":16.3},{"p":18,"s":4,"x":34,"y":15.5},{"p":18,"s":4,"x":39,"y":12.5},{"p":18,"s":4,"x":43,"y":8.5},{"p":18,"s":4,"x":46.6,"y":3.2},{"p":18,"s":4,"x":52,"y":4.5},{"p":18,"s":4,"x":58,"y":5.5},{"p":18,"s":4,"x":64,"y":6.5},{"p":18,"s":4,"x":71,"y":8.4}
]},
"columns":4,
"bounds":"flush",
"align":"none",
"spacing":{"row":91,"column":109},
"resolve":{"scale":{"color":"independent","x":"independent","y":"independent"}},
"concat":[
 {"width":192,"height":192,"layer":[
  {"transform":[{"filter":"datum.p==1"}],"mark":"line","encoding":{"x":{"field":"x","type":"quantitative","title":null,"scale":{"domain":[0,2600],"nice":false},"axis":{"values":[0,1000,2000],"format":"d"}},"y":{"field":"y","type":"quantitative","title":null,"scale":{"domain":[0,2600],"nice":false},"axis":{"values":[0,1000,2000],"format":"d"}},"color":{"field":"s","type":"nominal","scale":{"range":["#d0cce7","#9f95cd","#6e58a9"]},"legend":null},"order":{"value":null}}},
  {"data":{"values":[{"t":1}]},"mark":{"type":"text","text":"1.5 M LiAsF₆ 2-Me-THF","color":"#8c84c2"},"encoding":{"x":{"datum":1300,"type":"quantitative","title":null},"y":{"datum":2282,"type":"quantitative","title":null}}}]},
 {"width":192,"height":192,"layer":[
  {"transform":[{"filter":"datum.p==2"}],"mark":"line","encoding":{"x":{"field":"x","type":"quantitative","title":null,"scale":{"domain":[0,550],"nice":false},"axis":{"values":[0,200,400]}},"y":{"field":"y","type":"quantitative","title":null,"scale":{"domain":[0,550],"nice":false},"axis":{"values":[0,200,400]}},"color":{"field":"s","type":"nominal","scale":{"range":["#d6d3ea","#bdb6dc","#a49bcf","#8d80c0","#7361ad"]},"legend":null},"order":{"value":null}}},
  {"data":{"values":[{"t":1}]},"mark":{"type":"text","text":"1.5 M LiAsF₆ 2-Me-THF","color":"#8c84c2"},"encoding":{"x":{"datum":275,"type":"quantitative","title":null},"y":{"datum":482.7,"type":"quantitative","title":null}}}]},
 {"width":192,"height":192,"layer":[
  {"transform":[{"filter":"datum.p==3"}],"mark":"line","encoding":{"x":{"field":"x","type":"quantitative","title":null,"scale":{"domain":[0,200],"nice":false},"axis":{"values":[0,80,160]}},"y":{"field":"y","type":"quantitative","title":null,"scale":{"domain":[0,200],"nice":false},"axis":{"values":[0,80,160]}},"color":{"field":"s","type":"nominal","scale":{"range":["#cccccc","#aaaaaa","#8c8c8c","#737373"]},"legend":null},"order":{"value":null}}},
  {"data":{"values":[{"t":1}]},"mark":{"type":"text","text":"1 M LiClO₄ PC","color":"#999999"},"encoding":{"x":{"datum":100,"type":"quantitative","title":null},"y":{"datum":175.5,"type":"quantitative","title":null}}}]},
 {"width":192,"height":192,"layer":[
  {"transform":[{"filter":"datum.p==4"}],"mark":"line","encoding":{"x":{"field":"x","type":"quantitative","title":null,"scale":{"domain":[0,200],"nice":false},"axis":{"values":[0,80,160]}},"y":{"field":"y","type":"quantitative","title":null,"scale":{"domain":[0,200],"nice":false},"axis":{"values":[0,80,160]}},"color":{"field":"s","type":"nominal","scale":{"range":["#d9d9d9","#b8b8b8","#969696","#777777"]},"legend":null},"order":{"value":null}}},
  {"data":{"values":[{"t":1}]},"mark":{"type":"text","text":"1 M LiClO₄ PC","color":"#999999"},"encoding":{"x":{"datum":100,"type":"quantitative","title":null},"y":{"datum":175.5,"type":"quantitative","title":null}}}]},
 {"width":192,"height":192,"layer":[
  {"transform":[{"filter":"datum.p==5"}],"mark":"line","encoding":{"x":{"field":"x","type":"quantitative","title":null,"scale":{"domain":[0,200],"nice":false},"axis":{"values":[0,80,160]}},"y":{"field":"y","type":"quantitative","title":"−Im(Z) (Ω cm²)","scale":{"domain":[0,200],"nice":false},"axis":{"values":[0,80,160],"titleX":-93,"titleY":249}},"color":{"field":"s","type":"nominal","scale":{"range":["#4d4d70","#7b8fa3","#9fc0c4"]},"legend":null},"order":{"value":null}}},
  {"data":{"values":[{"t":1}]},"mark":{"type":"text","text":"1 M LiPF₆ EC/DEC","color":"#93b2ba"},"encoding":{"x":{"datum":100,"type":"quantitative","title":null},"y":{"datum":175.5,"type":"quantitative","title":"−Im(Z) (Ω cm²)"}}}]},
 {"width":192,"height":192,"layer":[
  {"transform":[{"filter":"datum.p==6"}],"mark":"line","encoding":{"x":{"field":"x","type":"quantitative","title":null,"scale":{"domain":[0,200],"nice":false},"axis":{"values":[0,80,160]}},"y":{"field":"y","type":"quantitative","title":null,"scale":{"domain":[0,200],"nice":false},"axis":{"values":[0,80,160]}},"color":{"field":"s","type":"nominal","scale":{"range":["#4d4d70","#7b8fa3","#9fc0c4"]},"legend":null},"order":{"value":null}}},
  {"data":{"values":[{"t":1}]},"mark":{"type":"text","text":"1 M LiPF₆ EC/DEC","color":"#93b2ba"},"encoding":{"x":{"datum":100,"type":"quantitative","title":null},"y":{"datum":175.5,"type":"quantitative","title":null}}}]},
 {"width":192,"height":192,"layer":[
  {"transform":[{"filter":"datum.p==7"}],"mark":"line","encoding":{"x":{"field":"x","type":"quantitative","title":null,"scale":{"domain":[0,200],"nice":false},"axis":{"values":[0,80,160]}},"y":{"field":"y","type":"quantitative","title":null,"scale":{"domain":[0,200],"nice":false},"axis":{"values":[0,80,160]}},"color":{"field":"s","type":"nominal","scale":{"range":["#f9b09a","#f3806a","#e8493a","#d21f1f"]},"legend":null},"order":{"value":null}}},
  {"data":{"values":[{"t":1}]},"mark":{"type":"text","text":"1 M LiFSI FEC","color":"#e8352e"},"encoding":{"x":{"datum":100,"type":"quantitative","title":null},"y":{"datum":175.5,"type":"quantitative","title":null}}}]},
 {"width":192,"height":192,"layer":[
  {"transform":[{"filter":"datum.p==8"}],"mark":"line","encoding":{"x":{"field":"x","type":"quantitative","title":null,"scale":{"domain":[0,100],"nice":false},"axis":{"values":[0,40,80]}},"y":{"field":"y","type":"quantitative","title":null,"scale":{"domain":[0,100],"nice":false},"axis":{"values":[0,40,80]}},"color":{"field":"s","type":"nominal","scale":{"range":["#f9b09a","#f3806a","#e8493a","#d21f1f"]},"legend":null},"order":{"value":null}}},
  {"data":{"values":[{"t":1}]},"mark":{"type":"text","text":"1 M LiFSI FEC","color":"#e8352e"},"encoding":{"x":{"datum":50,"type":"quantitative","title":null},"y":{"datum":87.76,"type":"quantitative","title":null}}}]},
 {"width":192,"height":192,"layer":[
  {"transform":[{"filter":"datum.p==9"}],"mark":"line","encoding":{"x":{"field":"x","type":"quantitative","title":null,"scale":{"domain":[0,200],"nice":false},"axis":{"values":[0,80,160]}},"y":{"field":"y","type":"quantitative","title":null,"scale":{"domain":[0,200],"nice":false},"axis":{"values":[0,80,160]}},"color":{"field":"s","type":"nominal","scale":{"range":["#b3d4ea","#8abfe0","#5fa6d6","#3a8dc9","#1f72b5"]},"legend":null},"order":{"value":null}}},
  {"data":{"values":[{"t":1}]},"mark":{"type":"text","text":"1 M LiPF₆ EC/DMC","color":"#3b8ed0"},"encoding":{"x":{"datum":100,"type":"quantitative","title":null},"y":{"datum":175.5,"type":"quantitative","title":null}}}]},
 {"width":192,"height":192,"layer":[
  {"transform":[{"filter":"datum.p==10"}],"mark":"line","encoding":{"x":{"field":"x","type":"quantitative","title":null,"scale":{"domain":[0,200],"nice":false},"axis":{"values":[0,80,160]}},"y":{"field":"y","type":"quantitative","title":null,"scale":{"domain":[0,200],"nice":false},"axis":{"values":[0,80,160]}},"color":{"field":"s","type":"nominal","scale":{"range":["#b3d4ea","#8abfe0","#5fa6d6","#3a8dc9","#1f72b5"]},"legend":null},"order":{"value":null}}},
  {"data":{"values":[{"t":1}]},"mark":{"type":"text","text":"1 M LiPF₆ EC/DMC","color":"#3b8ed0"},"encoding":{"x":{"datum":100,"type":"quantitative","title":null},"y":{"datum":175.5,"type":"quantitative","title":null}}}]},
 {"width":192,"height":192,"layer":[
  {"transform":[{"filter":"datum.p==11"}],"mark":"line","encoding":{"x":{"field":"x","type":"quantitative","title":null,"scale":{"domain":[0,150],"nice":false},"axis":{"values":[0,50,100,150]}},"y":{"field":"y","type":"quantitative","title":null,"scale":{"domain":[0,150],"nice":false},"axis":{"values":[0,50,100,150]}},"color":{"field":"s","type":"nominal","scale":{"range":["#fdbb80","#f8944a","#f07030","#e05020"]},"legend":null},"order":{"value":null}}},
  {"data":{"values":[{"t":1}]},"mark":{"type":"text","text":"2 M LiFSI FEC","color":"#f26b2b"},"encoding":{"x":{"datum":75,"type":"quantitative","title":null},"y":{"datum":131.6,"type":"quantitative","title":null}}}]},
 {"width":192,"height":192,"layer":[
  {"transform":[{"filter":"datum.p==12"}],"mark":"line","encoding":{"x":{"field":"x","type":"quantitative","title":null,"scale":{"domain":[0,150],"nice":false},"axis":{"values":[0,50,100,150]}},"y":{"field":"y","type":"quantitative","title":null,"scale":{"domain":[0,150],"nice":false},"axis":{"values":[0,50,100,150]}},"color":{"field":"s","type":"nominal","scale":{"range":["#fdbb80","#f8944a","#f07030","#e05020"]},"legend":null},"order":{"value":null}}},
  {"data":{"values":[{"t":1}]},"mark":{"type":"text","text":"2 M LiFSI FEC","color":"#f26b2b"},"encoding":{"x":{"datum":75,"type":"quantitative","title":null},"y":{"datum":131.6,"type":"quantitative","title":null}}}]},
 {"width":192,"height":192,"layer":[
  {"transform":[{"filter":"datum.p==13"}],"mark":"line","encoding":{"x":{"field":"x","type":"quantitative","title":null,"scale":{"domain":[0,150],"nice":false},"axis":{"values":[0,50,100,150]}},"y":{"field":"y","type":"quantitative","title":null,"scale":{"domain":[0,150],"nice":false},"axis":{"values":[0,50,100,150]}},"color":{"field":"s","type":"nominal","scale":{"range":["#6a3d20","#8a5030","#b0683a","#e8955a"]},"legend":null},"order":{"value":null}}},
  {"data":{"values":[{"t":1}]},"mark":{"type":"text","text":"7 M LiFSI FEC","color":"#d98b56"},"encoding":{"x":{"datum":75,"type":"quantitative","title":null},"y":{"datum":131.6,"type":"quantitative","title":null}}}]},
 {"width":192,"height":192,"layer":[
  {"transform":[{"filter":"datum.p==14"}],"mark":"line","encoding":{"x":{"field":"x","type":"quantitative","title":null,"scale":{"domain":[0,100],"nice":false},"axis":{"values":[0,40,80]}},"y":{"field":"y","type":"quantitative","title":null,"scale":{"domain":[0,100],"nice":false},"axis":{"values":[0,40,80]}},"color":{"field":"s","type":"nominal","scale":{"range":["#6a3d20","#a0603a","#e8955a"]},"legend":null},"order":{"value":null}}},
  {"data":{"values":[{"t":1}]},"mark":{"type":"text","text":"7 M LiFSI FEC","color":"#d98b56"},"encoding":{"x":{"datum":50,"type":"quantitative","title":null},"y":{"datum":87.76,"type":"quantitative","title":null}}}]},
 {"width":192,"height":192,"layer":[
  {"transform":[{"filter":"datum.p==15"}],"mark":"line","encoding":{"x":{"field":"x","type":"quantitative","title":null,"scale":{"domain":[0,100],"nice":false},"axis":{"values":[0,40,80]}},"y":{"field":"y","type":"quantitative","title":null,"scale":{"domain":[0,100],"nice":false},"axis":{"values":[0,40,80]}},"color":{"field":"s","type":"nominal","scale":{"range":["#a6dba0","#7bc67f","#45ab5e","#238b45"]},"legend":null},"order":{"value":null}}},
  {"data":{"values":[{"t":1}]},"mark":{"type":"text","text":["1 M LiTFSI DOL/DME","+ 3wt% LiNO₃"],"color":"#41ab5d"},"encoding":{"x":{"datum":50,"type":"quantitative","title":null},"y":{"datum":87.76,"type":"quantitative","title":null}}}]},
 {"width":192,"height":192,"layer":[
  {"transform":[{"filter":"datum.p==16"}],"mark":"line","encoding":{"x":{"field":"x","type":"quantitative","title":null,"scale":{"domain":[0,150],"nice":false},"axis":{"values":[0,50,100,150]}},"y":{"field":"y","type":"quantitative","title":null,"scale":{"domain":[0,150],"nice":false},"axis":{"values":[0,50,100,150]}},"color":{"field":"s","type":"nominal","scale":{"range":["#a6dba0","#7bc67f","#45ab5e","#238b45"]},"legend":null},"order":{"value":null}}},
  {"data":{"values":[{"t":1}]},"mark":{"type":"text","text":["1 M LiTFSI DOL/DME","+ 3wt% LiNO₃"],"color":"#41ab5d"},"encoding":{"x":{"datum":75,"type":"quantitative","title":null},"y":{"datum":131.6,"type":"quantitative","title":null}}}]},
 {"width":184,"height":192,"data":{"values":[{"b":1}]},"mark":{"type":"point","opacity":0},"view":{"stroke":null},"encoding":{}},
 {"width":192,"height":192,"layer":[
  {"transform":[{"filter":"datum.p==17"}],"mark":"line","encoding":{"x":{"field":"x","type":"quantitative","title":null,"scale":{"domain":[0,100],"nice":false},"axis":{"values":[0,40,80]}},"y":{"field":"y","type":"quantitative","title":null,"scale":{"domain":[0,100],"nice":false},"axis":{"values":[0,40,80]}},"color":{"field":"s","type":"nominal","scale":{"range":["#f8a35c","#d6ea9a","#8fcc5d"]},"legend":null},"order":{"value":null}}},
  {"data":{"values":[{"t":1}]},"mark":{"type":"text","text":["2 M LiFSI / 1 M LiTFSI","DOL/DME","+ 3wt% LiNO₃"],"color":"#b8dd78"},"encoding":{"x":{"datum":50,"type":"quantitative","title":null},"y":{"datum":87.76,"type":"quantitative","title":null}}}]},
 {"width":192,"height":192,"layer":[
  {"transform":[{"filter":"datum.p==18"}],"mark":"line","encoding":{"x":{"field":"x","type":"quantitative","title":"Re(Z) (Ω cm²)","scale":{"domain":[0,150],"nice":false},"axis":{"values":[0,50,100,150],"titleX":-60,"titleY":79,"titleBaseline":"alphabetic"}},"y":{"field":"y","type":"quantitative","title":null,"scale":{"domain":[0,150],"nice":false},"axis":{"values":[0,50,100,150]}},"color":{"field":"s","type":"nominal","scale":{"range":["#f8a35c","#fde38e","#d6ea9a","#8fcc5d"]},"legend":null},"order":{"value":null}}},
  {"data":{"values":[{"t":1}]},"mark":{"type":"text","text":["2 M LiFSI / 1 M LiTFSI","DOL/DME","+ 3wt% LiNO₃"],"color":"#b8dd78"},"encoding":{"x":{"datum":75,"type":"quantitative","title":"Re(Z) (Ω cm²)"},"y":{"datum":131.6,"type":"quantitative","title":null}}}]}
]
}
